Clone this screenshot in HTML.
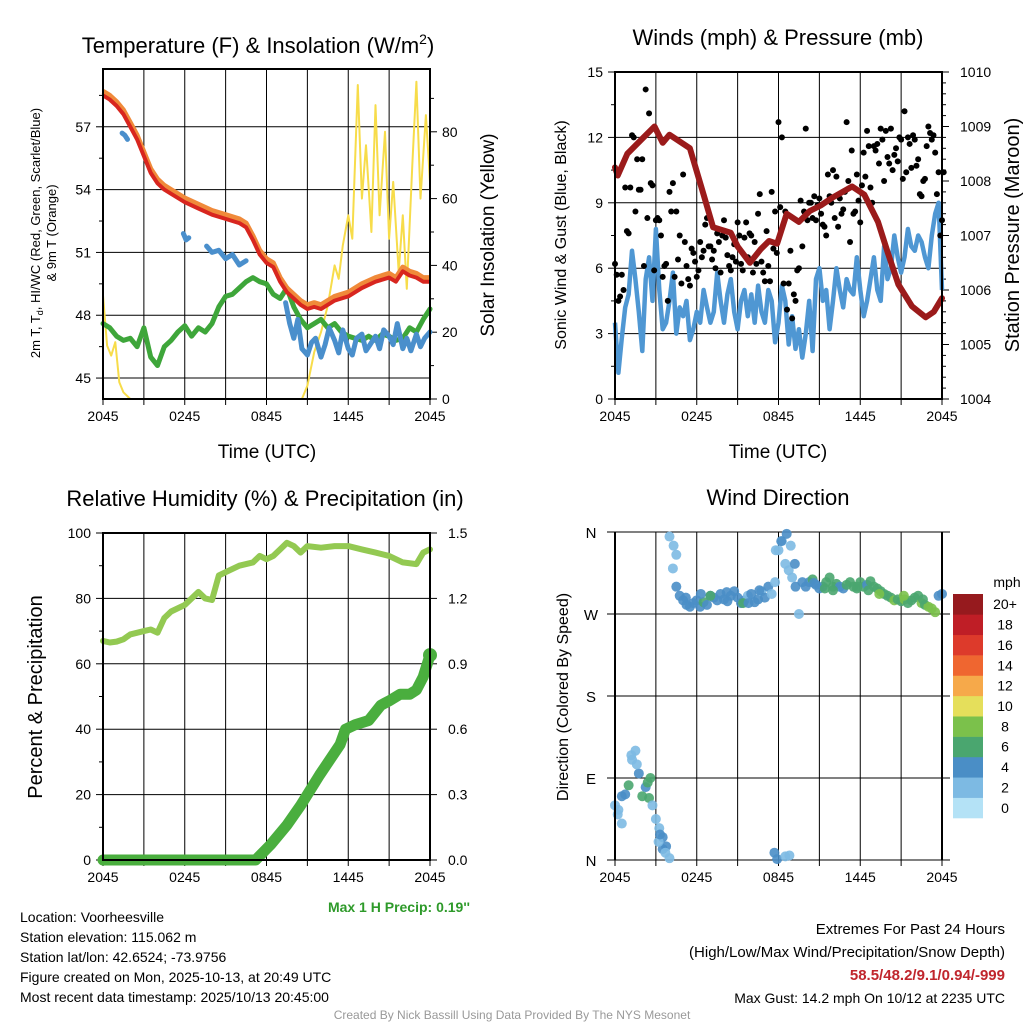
<!DOCTYPE html>
<html><head><meta charset="utf-8">
<style>
body{margin:0;background:#fff;}
svg{display:block;font-family:"Liberation Sans",Arial,sans-serif;}
</style></head>
<body>
<svg id="c" width="1024" height="1024" viewBox="0 0 1024 1024" xmlns="http://www.w3.org/2000/svg">
<rect width="1024" height="1024" fill="#fff"/>
</svg>
<script>
// ---------- DATA ----------
const xTickLabels = ["2045","0245","0845","1445","2045"];
// Panel 1 (hours since 2045)
const tempHours = [0,0.5,1,1.5,2,2.5,3,3.5,4,4.5,5,6,7,8,9,10,10.5,11,11.5,12,12.5,13,13.5,14,14.5,15,15.5,16,17,18,19,20,21,21.5,22,22.5,23,23.5,24];
const tempVals  = [58.5,58.3,58.0,57.6,57.0,56.4,55.6,54.8,54.3,54.0,53.8,53.4,53.1,52.8,52.6,52.4,52.2,51.6,50.9,50.5,50.3,49.6,49.1,48.8,48.5,48.3,48.4,48.3,48.7,48.9,49.3,49.6,49.8,49.6,50.1,49.9,49.8,49.6,49.6];
const dewHours = [0,0.5,1,1.5,2,2.5,3,3.5,4,4.5,5,5.5,6,6.5,7,7.5,8,8.5,9,9.5,10,10.5,11,11.5,12,12.5,13,13.5,14,14.5,15,15.5,16,16.5,17,17.5,18,18.5,19,19.5,20,20.5,21,21.5,22,22.5,23,23.5,24];
const dewVals  = [47.6,47.4,47.0,46.8,46.9,46.5,47.4,46.0,45.6,46.5,46.8,47.2,47.5,47.0,47.4,47.2,47.6,48.4,48.9,49.0,49.3,49.6,49.8,49.6,49.5,49.0,48.8,49.3,48.4,47.8,47.4,47.6,47.8,47.4,47.6,47.2,47.0,46.9,46.8,47.0,46.8,47.1,47.0,46.8,46.9,47.4,47.2,47.8,48.3];
const hiwcHours = [1.4,1.6,1.8,null,5.9,6.1,6.3,null,7.6,8,8.5,9,9.5,10,10.5,null,13.4,13.7,14,14.3,14.6,15,15.3,15.6,16,16.3,16.6,17,17.3,17.6,18,18.3,18.6,19,19.3,19.6,20,20.3,20.6,21,21.3,21.6,22,22.3,22.6,23,23.3,23.6,24];
const hiwcVals  = [56.7,56.6,56.4,null,51.9,51.6,51.7,null,51.3,51.0,51.1,50.7,50.9,50.4,50.6,null,48.6,47.6,46.9,47.8,46.4,46.1,46.7,46.9,46.0,46.6,47.4,46.8,46.2,47.3,46.4,46.1,46.9,47.1,46.3,46.6,47.0,46.4,47.3,47.0,46.6,47.6,46.4,46.9,46.3,47.1,46.5,46.9,47.2];
const solHours = [0,0.3,0.6,0.9,1.2,1.5,2,14.6,15,15.5,16,16.5,17,17.3,17.6,18,18.3,18.7,19,19.3,19.7,20,20.3,20.7,21,21.3,21.7,22,22.3,22.7,23,23.3,23.7,24];
const solVals  = [31,16,13,17,5,2,0,0,4,14,20,28,40,36,46,55,48,94,60,76,50,88,55,80,48,65,38,55,33,70,95,60,85,65];
// Panel 2
const windVals = [3.5,1.2,2.8,4.2,4.8,6.8,5.5,4.0,2.2,5.5,6.5,4.5,7.8,5.0,3.2,3.5,4.5,5.8,3.0,4.2,3.8,4.5,2.7,3.2,4.0,3.5,5.0,4.2,3.5,4.0,5.8,4.5,3.5,4.8,5.5,4.0,3.2,4.5,5.0,3.8,4.8,3.5,5.2,4.0,3.5,5.0,4.5,2.6,3.5,5.2,4.5,2.5,3.8,2.3,3.2,1.9,3.0,4.5,2.2,5.5,6.0,4.5,5.0,3.2,4.5,6.0,5.0,4.2,5.5,5.0,4.8,6.5,5.0,3.8,4.5,5.5,6.5,5.0,4.5,7.0,5.5,6.0,7.5,6.5,5.8,6.5,7.8,7.0,6.8,7.5,7.2,6.5,6.0,7.5,8.5,9.0,5.0];
const gustA = [6.2,4.5,5.7,9.7,7.6,12.1,8.6,9.6,11.0,14.2,13.1,9.8,8.2,8.2,5.6,6.2,9.5,9.9,8.6,7.5,10.3,6.1,5.2,6.7,5.6,7.2,6.8,8.3,7.0,6.8,7.6,5.8,8.2,6.6,5.9,7.1,8.1,6.2,7.4,6.5,7.5,7.2,8.5,6.3,5.4,6.1,9.5,8.6,12.7,12.0,8.6,5.3,3.7,4.5,6.0,7.0,12.4,9.0,8.3,8.2,9.2,8.0,7.5,9.3,10.5,10.2,9.2,8.7,12.7,7.2,8.5,10.3,8.1,11.3,12.3,9.7,11.6,11.7,12.4,10.0,11.1,12.4,11.2,10.9,11.9,13.2,12.0,10.6,11.9,11.0,9.3,10.1,12.5,11.9,11.3,10.4,8.2];
const gustB = [5.7,4.7,5.0,7.7,9.7,12.0,11.0,9.6,6.1,8.3,9.9,5.9,8.3,7.5,6.1,4.5,8.6,5.6,6.4,5.3,7.2,5.5,6.9,6.3,5.9,6.5,8.0,7.0,6.4,6.0,7.2,7.5,7.4,6.1,6.5,6.3,7.5,5.9,8.1,7.6,5.8,6.2,9.4,5.8,7.7,5.4,6.9,6.7,8.8,5.3,4.1,6.8,4.8,5.9,9.1,8.6,8.2,9.0,9.3,8.9,8.5,7.9,10.3,9.0,8.3,7.9,8.5,9.5,10.0,11.4,8.6,9.1,9.8,10.2,11.6,9.0,11.4,10.8,11.9,12.3,10.8,10.5,11.5,12.0,10.1,10.4,11.7,12.1,10.7,9.4,10.0,11.6,12.2,12.1,9.4,7.5,10.4];
const presHours = [0,0.2,0.9,2.1,2.9,3.5,4.0,5.5,6.5,7.2,8.5,9.0,9.9,10.7,11.3,11.9,12.6,13.5,14.3,15.1,16.0,17.4,18.3,19.3,20.0,20.8,21.8,22.8,23.4,24];
const presVals  = [1008.25,1008.1,1008.5,1008.8,1009.0,1008.7,1008.85,1008.6,1007.75,1007.15,1007.05,1006.8,1006.5,1006.75,1006.9,1006.85,1007.4,1007.25,1007.45,1007.55,1007.7,1007.9,1007.75,1007.25,1006.7,1006.1,1005.7,1005.5,1005.6,1005.85];
const presTicks = [1004,1005,1006,1007,1008,1009,1010];
// Panel 3
const rhHours = [0,0.5,1,1.5,2,3,3.5,4,4.5,5,6,6.5,7,7.5,8,8.5,9,10,11,11.5,12,12.5,13,13.5,14,14.5,15,16,17,18,19,20,21,22,23,23.5,24];
const rhVals  = [67,66.5,66.8,67.5,69,70,70.5,69.5,74,76,78,80,82,80,79.5,87,88,90,91,93,92,93,95,97,96,94,96,95.5,96,96,95,94,93,91,90.5,94,95];
const prHours = [0,11.2,12.3,13.5,14.5,15.9,17.4,17.8,18.5,19.5,20.4,21.0,21.8,22.5,23.0,23.5,23.7,24];
const prVals  = [0,0,0.07,0.16,0.25,0.39,0.53,0.60,0.62,0.64,0.71,0.73,0.76,0.76,0.78,0.84,0.88,0.94];
// Panel 4
const dirDeg = [60,55,70,72,82,110,120,95,70,80,68,60,45,35,25,15,355,320,300,290,285,280,278,282,285,278,283,280,290,288,285,292,286,284,290,295,288,282,285,290,292,283,286,295,288,300,292,305,340,350,325,318,310,300,270,305,300,305,308,302,298,300,305,310,300,303,300,298,302,305,300,298,305,300,302,306,300,298,295,292,290,288,285,286,284,286,282,285,288,290,282,280,278,276,272,290,292];
const dirSpd = [3,2,4,5,6,2,3,4,7,5,6,3,2,3,4,4,2,2,4,4,4,5,4,4,4,4,6,4,4,4,4,4,5,4,4,4,4,4,4,3,4,4,4,2,4,4,3,2,2,2,3,2,3,5,2,4,4,5,6,4,5,4,6,6,6,6,4,5,6,6,6,6,6,6,5,6,6,7,6,6,7,7,8,6,7,8,7,6,7,6,8,7,8,8,8,4,4];
const extraHours = [0.2,0.5,3.5,3.7,4.0,3.2,3.3,11.7,11.9,12.5,12.8,4.3,4.5,11.8,12.2,12.6,12.9,1.2,1.6,2.4,2.6,7,9.4,13.2,16,17.8,5.2,6.3,8.2,9.8,10.6,14.6,15.4,18.6,19.4,21.2,22.6];
const extraDeg   = [50,40,12,8,2,20,28,8,1,4,5,345,335,340,350,358,345,115,105,85,90,290,282,325,296,300,288,292,294,282,296,304,298,296,292,290,286];
const extraSpd   = [2,2,4,3,2,2,4,4,4,2,2,2,2,2,4,4,2,2,3,6,7,6,6,4,6,6,4,4,4,4,4,4,6,6,8,8,6];
const cbLabels = ["0","2","4","6","8","10","12","14","16","18","20+"];
const cbColors = ["#b4e2f6","#7dbae3","#4a8ec6","#4aa66f","#7bc14b","#e5df5b","#f6a94a","#ef6630","#dd3a2b","#bf1e26","#961a1e"];

// ---------- HELPERS ----------
const NS="http://www.w3.org/2000/svg";
const svg=document.getElementById('c');
function el(tag,attrs,parent){const e=document.createElementNS(NS,tag);for(const k in attrs)e.setAttribute(k,attrs[k]);(parent||svg).appendChild(e);return e;}
function txt(s,x,y,size,anchor,parent,extra){const t=el('text',Object.assign({x:x,y:y,'font-size':size,'text-anchor':anchor||'middle',fill:'#000'},extra||{}),parent);t.textContent=s;return t;}
function mkScale(d0,d1,r0,r1){return v=>r0+(v-d0)/(d1-d0)*(r1-r0);}
function linePath(xs,ys,sx,sy){let d='',pen=false;for(let i=0;i<xs.length;i++){if(xs[i]===null||ys[i]===null){pen=false;continue;}d+=(pen?'L':'M')+sx(xs[i]).toFixed(1)+','+sy(ys[i]).toFixed(1);pen=true;}return d;}
function frame(g,x0,x1,y0,y1,sx){
  for(let h=0;h<=24;h+=3){const X=sx(h);el('line',{x1:X,x2:X,y1:y0,y2:y1,stroke:'#000','stroke-width':1},g);el('line',{x1:X,x2:X,y1:y1,y2:y1+6,stroke:'#000','stroke-width':1},g);}
  for(let i=0;i<xTickLabels.length;i++){const t=txt(xTickLabels[i],sx(i*6),y1+22,14,'middle',g);}
}
function box(g,x0,x1,y0,y1){el('rect',{x:x0,y:y0,width:x1-x0,height:y1-y0,fill:'none',stroke:'#000','stroke-width':2},g);}

// ---------- PANEL 1 ----------
(function(){
const g=el('g',{});  
const x0=103,x1=430,y0=69,y1=399;
const sx=mkScale(0,24,x0,x1), sy=mkScale(44,59.76,y1,y0), sr=mkScale(0,98.8,y1,y0);
[45,48,51,54,57].forEach(v=>{el('line',{x1:x0,x2:x1,y1:sy(v),y2:sy(v),stroke:'#000','stroke-width':1},g);el('line',{x1:x0-7,x2:x0,y1:sy(v),y2:sy(v),stroke:'#000'},g);txt(String(v),x0-12,sy(v)+5,14,'end',g);});
[46.5,49.5,52.5,55.5,58.5].forEach(v=>el('line',{x1:x0-4,x2:x0,y1:sy(v),y2:sy(v),stroke:'#000'},g));
[0,20,40,60,80].forEach(v=>{el('line',{x1:x1,x2:x1+7,y1:sr(v),y2:sr(v),stroke:'#000'},g);txt(String(v),x1+12,sr(v)+5,14,'start',g);});
[10,30,50,70,90].forEach(v=>el('line',{x1:x1,x2:x1+4,y1:sr(v),y2:sr(v),stroke:'#000'},g));
frame(g,x0,x1,y0,y1,sx);
const sol=el('path',{d:linePath(solHours,solVals,sx,sr),fill:'none',stroke:'#f7dc4a','stroke-width':2,'stroke-linejoin':'round'},g);
 
const dew=el('path',{d:linePath(dewHours,dewVals,sx,sy),fill:'none',stroke:'#3ea63a','stroke-width':5,'stroke-linejoin':'round','stroke-linecap':'round'},g);
 
const hi=el('path',{d:linePath(hiwcHours,hiwcVals,sx,sy),fill:'none',stroke:'#4a8fcc','stroke-width':5,'stroke-linejoin':'round','stroke-linecap':'round'},g);
 
const t9=el('path',{d:linePath(tempHours,tempVals.map(v=>v+0.2),sx,sy),fill:'none',stroke:'#f08a3a','stroke-width':5,'stroke-linejoin':'round'},g);
 
const t2=el('path',{d:linePath(tempHours,tempVals,sx,sy),fill:'none',stroke:'#d8261f','stroke-width':4,'stroke-linejoin':'round'},g);
 
box(g,x0,x1,y0,y1);
const tt=txt('Temperature (F) & Insolation (W/m',258,53,22,'middle',g); const sup=el('tspan',{dy:-9,'font-size':14},tt); sup.textContent='2'; const cl=el('tspan',{dy:9},tt); cl.textContent=')';
 
const yl=el('text',{transform:'translate(40,233) rotate(-90)','font-size':13,'text-anchor':'middle'},g);
yl.textContent='2m T, T'; const sb=el('tspan',{'font-size':9,dy:3},yl); sb.textContent='d'; const r=el('tspan',{dy:-3},yl); r.textContent=', HI/WC (Red, Green, Scarlet/Blue)';
 
const yl2=el('text',{transform:'translate(56,233) rotate(-90)','font-size':13,'text-anchor':'middle'},g); yl2.textContent='& 9m T (Orange)';
const yr=el('text',{transform:'translate(494,235) rotate(-90)','font-size':19,'text-anchor':'middle'},g); yr.textContent='Solar Insolation (Yellow)';
 
const xt=txt('Time (UTC)',267,458,19,'middle',g);  
})();

// ---------- PANEL 2 ----------
(function(){
const g=el('g',{});  
const x0=615,x1=942,y0=72,y1=399;
const sx=mkScale(0,24,x0,x1), sy=mkScale(0,15,y1,y0), sp=mkScale(1004,1010,y1,y0);
[0,3,6,9,12,15].forEach(v=>{el('line',{x1:x0,x2:x1,y1:sy(v),y2:sy(v),stroke:'#000'},g);el('line',{x1:x0-7,x2:x0,y1:sy(v),y2:sy(v),stroke:'#000'},g);txt(String(v),x0-12,sy(v)+5,14,'end',g);});
[1.5,4.5,7.5,10.5,13.5].forEach(v=>el('line',{x1:x0-4,x2:x0,y1:sy(v),y2:sy(v),stroke:'#000'},g));
for(let k=0;k<=30;k++){const p=1004+k*0.2;const maj=(k%5===0);el('line',{x1:x1,x2:x1+(maj?7:4),y1:sp(p),y2:sp(p),stroke:'#000'},g);}
presTicks.forEach(p=>txt(String(p),x1+18,sp(p)+5,14,'start',g));
frame(g,x0,x1,y0,y1,sx);
const wh=windVals.map((v,i)=>i*0.25);
const w=el('path',{d:linePath(wh,windVals,sx,sy),fill:'none',stroke:'#4f97d3','stroke-width':4.5,'stroke-linejoin':'round'},g);
 
gustA.forEach((v,i)=>{const c=el('circle',{cx:sx(i*0.25),cy:sy(v),r:3,fill:'#000'},g);});
gustB.forEach((v,i)=>{const c=el('circle',{cx:sx(i*0.25+0.125),cy:sy(v),r:3,fill:'#000'},g);});
const p=el('path',{d:linePath(presHours,presVals,sx,sp),fill:'none',stroke:'#9b1b1b','stroke-width':6,'stroke-linejoin':'round','stroke-linecap':'round'},g);
 
box(g,x0,x1,y0,y1);
const tt=txt('Winds (mph) & Pressure (mb)',778,45,22,'middle',g);  
const yl=el('text',{transform:'translate(566,235) rotate(-90)','font-size':16,'text-anchor':'middle'},g); yl.textContent='Sonic Wind & Gust (Blue, Black)';
 
const yr=el('text',{transform:'translate(1019,235) rotate(-90)','font-size':20,'text-anchor':'middle'},g); yr.textContent='Station Pressure (Maroon)';
 
const xt=txt('Time (UTC)',778,458,19,'middle',g);  
})();

// ---------- PANEL 3 ----------
(function(){
const g=el('g',{});  
const x0=103,x1=430,y0=533,y1=860;
const sx=mkScale(0,24,x0,x1), sy=mkScale(0,100,y1,y0), sp=mkScale(0,1.5,y1,y0);
[0,20,40,60,80,100].forEach(v=>{el('line',{x1:x0,x2:x1,y1:sy(v),y2:sy(v),stroke:'#000'},g);el('line',{x1:x0-7,x2:x0,y1:sy(v),y2:sy(v),stroke:'#000'},g);txt(String(v),x0-12,sy(v)+5,14,'end',g);});
[10,30,50,70,90].forEach(v=>el('line',{x1:x0-4,x2:x0,y1:sy(v),y2:sy(v),stroke:'#000'},g));
[0,0.3,0.6,0.9,1.2,1.5].forEach(v=>{el('line',{x1:x1,x2:x1+7,y1:sp(v),y2:sp(v),stroke:'#000'},g);txt(v.toFixed(1),x1+18,sp(v)+5,14,'start',g);});
frame(g,x0,x1,y0,y1,sx);
const rh=el('path',{d:linePath(rhHours,rhVals,sx,sy),fill:'none',stroke:'#93c952','stroke-width':6,'stroke-linejoin':'round','stroke-linecap':'round'},g);
 
const pr=el('path',{d:linePath(prHours,prVals,sx,sp),fill:'none',stroke:'#4aae3e','stroke-width':11,'stroke-linejoin':'round','stroke-linecap':'round'},g);
 
const ld=el('circle',{cx:sx(prHours[prHours.length-1]),cy:sp(prVals[prVals.length-1]),r:7,fill:'#4aae3e'},g);
box(g,x0,x1,y0,y1);
const tt=txt('Relative Humidity (%) & Precipitation (in)',265,506,22,'middle',g);  
const yl=el('text',{transform:'translate(42,697) rotate(-90)','font-size':20,'text-anchor':'middle'},g); yl.textContent='Percent & Precipitation';
 
const mp=txt("Max 1 H Precip: 0.19''",470,912,14,'end',g,{fill:'#2e9a2a','font-weight':'bold'});  
})();

// ---------- PANEL 4 ----------
(function(){
const g=el('g',{});  
const x0=615,x1=942,y0=532,y1=860;
const sx=mkScale(0,24,x0,x1), sy=mkScale(0,360,y1,y0);
const col=s=>cbColors[Math.min(10,Math.max(0,Math.floor(s/2)))];
[['N',360],['W',270],['S',180],['E',90],['N',0]].forEach(a=>{el('line',{x1:x0-8,x2:x1+8,y1:sy(a[1]),y2:sy(a[1]),stroke:'#000'},g);txt(a[0],x0-24,sy(a[1])+6,15,'middle',g);});
frame(g,x0,x1,y0,y1,sx);
dirDeg.forEach((d,i)=>{const c=el('circle',{cx:sx(i*0.25),cy:sy(d),r:5,fill:col(dirSpd[i]),'fill-opacity':0.9},g);});
extraHours.forEach((h,i)=>{const c=el('circle',{cx:sx(h),cy:sy(extraDeg[i]),r:5,fill:col(extraSpd[i]),'fill-opacity':0.9},g);});
el('line',{x1:x0,x2:x0,y1:y0,y2:y1,stroke:'#000','stroke-width':2},g);
el('line',{x1:x1,x2:x1,y1:y0,y2:y1,stroke:'#000','stroke-width':2},g);
const tt=txt('Wind Direction',778,505,22,'middle',g);  
const yl=el('text',{transform:'translate(568,697) rotate(-90)','font-size':16,'text-anchor':'middle'},g); yl.textContent='Direction (Colored By Speed)';
 
const cb=el('g',{},g);  
const bh=(818-594)/11;
cbColors.forEach((c,i)=>{el('rect',{x:953,y:818-(i+1)*bh,width:30,height:bh+0.3,fill:c},cb);const t=txt(cbLabels[i],1005,818-i*bh-bh/2+5,14,'middle',cb);});
txt('mph',1007,587,14,'middle',cb);
})();

// ---------- FOOTER ----------
(function(){
const g=el('g',{});  
['Location: Voorheesville','Station elevation: 115.062 m','Station lat/lon: 42.6524; -73.9756','Figure created on Mon, 2025-10-13, at 20:49 UTC','Most recent data timestamp: 2025/10/13 20:45:00'].forEach((s,i)=>txt(s,20,922+i*20,14,'start',g));
const g2=el('g',{});  
txt('Extremes For Past 24 Hours',1005,934,15,'end',g2);
txt('(High/Low/Max Wind/Precipitation/Snow Depth)',1005,957,15,'end',g2);
txt('58.5/48.2/9.1/0.94/-999',1005,980,15,'end',g2,{fill:'#c0262d','font-weight':'bold'});
txt('Max Gust: 14.2 mph On 10/12 at 2235 UTC',1005,1003,14,'end',g2);
const cr=txt('Created By Nick Bassill Using Data Provided By The NYS Mesonet',512,1019,12,'middle',null,{fill:'#999'});
 
})();
</script>
</body></html>
